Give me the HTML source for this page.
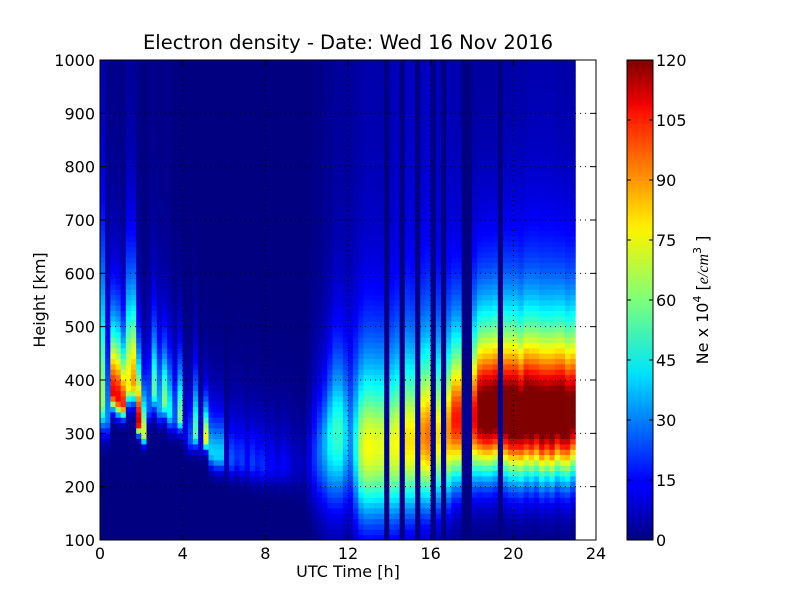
<!DOCTYPE html>
<html><head><meta charset="utf-8"><style>
html,body{margin:0;padding:0;background:#fff;width:800px;height:600px;overflow:hidden}
svg text{font-family:"DejaVu Sans","Liberation Sans",sans-serif;fill:#000}
</style></head><body>
<svg id="chart" width="800" height="600" viewBox="0 0 800 600">
<rect x="0" y="0" width="800" height="600" fill="#fff"/>
<text x="348" y="49" font-size="19.5" text-anchor="middle">Electron density - Date: Wed 16 Nov 2016</text>
<g id="heat"></g>
<g id="grid"></g>
<rect x="100" y="60" width="496" height="480" fill="none" stroke="#000" stroke-width="1"/>
<g id="axes"></g>
<text x="348" y="577" font-size="16" text-anchor="middle">UTC Time [h]</text>
<text transform="translate(45,300) rotate(-90)" font-size="16" text-anchor="middle">Height [km]</text>
<defs><linearGradient id="jet" x1="0" y1="1" x2="0" y2="0">
<stop offset="0" stop-color="#00007f"/><stop offset="0.11" stop-color="#0000ff"/><stop offset="0.125" stop-color="#0000ff"/><stop offset="0.34" stop-color="#00dcff"/><stop offset="0.35" stop-color="#00e5f7"/><stop offset="0.5" stop-color="#7dff7a"/><stop offset="0.64" stop-color="#f7f400"/><stop offset="0.66" stop-color="#ffea00"/><stop offset="0.89" stop-color="#ff1300"/><stop offset="0.91" stop-color="#ee0000"/><stop offset="1" stop-color="#7f0000"/>
</linearGradient></defs>
<rect x="627" y="60" width="26" height="480" fill="url(#jet)" stroke="#000" stroke-width="1"/>
<g id="cbar"></g>
<text transform="translate(708,300) rotate(-90)" font-size="16" text-anchor="middle">Ne x 10<tspan font-size="11" dy="-7">4</tspan><tspan dy="7">  [</tspan><tspan font-style="italic" font-family="Liberation Serif">e/cm</tspan><tspan font-size="11" dy="-7">3</tspan><tspan dy="7"> ]</tspan></text>
</svg>
<script>
// one profile per 0.25 h column, 0 .. 22.75 h
const peakHeight=[360,330,375,365,355,390,395,320,300,350,380,350,360,340,330,330,300,290,300,280,290,265,260,260,250,250,255,250,250,245,245,240,240,240,235,240,240,240,240,240,250,260,270,280,290,300,300,300,290,280,275,275,275,275,275,300,275,280,300,285,285,300,295,295,300,295,300,305,325,325,300,300,330,340,340,340,345,300,340,335,335,330,340,335,340,330,335,330,340,335,330,340];
const peakNe=[60,30,105,105,100,75,85,110,70,25,55,35,60,45,25,60,12,25,55,12,75,40,40,40,8,25,20,22,15,22,18,20,15,15,12,15,12,8,8,6,12,20,28,35,45,50,50,40,30,45,65,72,72,70,70,3,70,72,3,75,75,3,85,88,3,75,3,85,100,100,3,3,105,125,130,130,130,3,130,135,135,130,135,135,130,135,130,135,130,135,130,125];
const upperScale=[90,60,45,45,38,65,60,38,30,45,45,45,38,38,38,38,38,30,38,30,24,28,28,28,30,30,30,30,30,30,30,30,30,30,30,30,30,30,30,30,40,45,45,45,50,55,55,55,60,60,60,60,60,60,60,45,60,60,45,60,60,45,60,60,45,60,45,58,56,56,45,45,58,58,58,58,58,45,58,58,58,58,58,58,58,58,58,58,58,58,58,58];
const lowerScale=[50,35,28,28,24,35,35,20,20,30,35,30,30,30,30,25,30,25,25,25,20,28,30,30,30,32,32,35,35,35,35,35,35,35,35,35,40,40,45,50,75,95,110,120,130,135,135,135,135,140,140,140,140,140,140,80,140,140,80,135,135,80,130,130,80,125,80,120,115,115,80,80,110,110,110,110,110,80,110,110,110,110,110,110,110,110,110,110,110,110,110,110];
const topNe=[3,1,1,1,1,2,2,1,0,1,1,1,1,1,0,0,0,0,0,0,0,0,0,0,0,0,0,0,0,0,0,0,0,0,0,0,0,0,0,0,0,1,1,2,2,3,3,3,3,4,4,5,5,5,5,0,6,7,0,8,7,0,7,8,0,7,0,6,5,5,0,0,3,3,3,3,3,0,4,4,4,4,4,5,5,5,5,5,4,4,4,4];
const xTicks=[0,4,8,12,16,20,24];
const yTicks=[100,200,300,400,500,600,700,800,900,1000];
const cTicks=[0,15,30,45,60,75,90,105,120];

const NS='http://www.w3.org/2000/svg';
const X0=100,X1=596,Y0=540,Y1=60;
function xs(t){return X0+(t/24)*(X1-X0);}
function ys(h){return Y0-(h-100)/900*(Y0-Y1);}
function jet(v){let x=Math.max(0,Math.min(1,v/120));
 function c(a){return Math.max(0,Math.min(1,1.5-Math.abs(4*x-a)));}
 const r=c(3),g=c(2),b=c(1);return 'rgb('+Math.round(r*255)+','+Math.round(g*255)+','+Math.round(b*255)+')';}
function profile(i,h){const hm=peakHeight[i];let base;
 if(h>hm){const z=(h-hm)/upperScale[i];base=Math.exp(0.5*(1-z-Math.exp(-z)));}
 else{const z=(hm-h)/lowerScale[i];base=Math.exp(-z*z);}
 return peakNe[i]*base+topNe[i]*Math.min(1,Math.max(0,(h-150)/300));}
function mk(tag,attrs,parent){const e=document.createElementNS(NS,tag);for(const k in attrs)e.setAttribute(k,attrs[k]);parent.appendChild(e);return e;}
const heat=document.getElementById('heat');
const dh=10,dt=0.25;
for(let i=0;i<peakNe.length;i++){
 for(let h=100;h<1000;h+=dh){
  const r=mk('rect',{x:xs(i*dt).toFixed(2),y:ys(h+dh).toFixed(2),width:(xs(dt)-xs(0)+0.4).toFixed(2),height:(ys(h)-ys(h+dh)+0.4).toFixed(2),fill:jet(profile(i,h+dh/2))},heat);
  
  
 }
}
const grid=document.getElementById('grid'),axes=document.getElementById('axes');
xTicks.forEach(t=>{const x=xs(t);
 if(t>0&&t<24){const l=mk('line',{x1:x,y1:Y1,x2:x,y2:Y0,stroke:'#000','stroke-dasharray':'1,4','stroke-width':1},grid);
  }
 mk('line',{x1:x,y1:Y0,x2:x,y2:Y0-5,stroke:'#000'},axes);mk('line',{x1:x,y1:Y1,x2:x,y2:Y1+5,stroke:'#000'},axes);
 const tx=mk('text',{x:x,y:Y0+19,'font-size':16,'text-anchor':'middle'},axes);tx.textContent=t;
 });
yTicks.forEach(h=>{const y=ys(h);
 if(h>100&&h<1000){const l=mk('line',{x1:X0,y1:y,x2:X1,y2:y,stroke:'#000','stroke-dasharray':'1,4','stroke-width':1},grid);
  }
 mk('line',{x1:X0,y1:y,x2:X0+5,y2:y,stroke:'#000'},axes);mk('line',{x1:X1,y1:y,x2:X1-5,y2:y,stroke:'#000'},axes);
 const tx=mk('text',{x:X0-5,y:y+6,'font-size':16,'text-anchor':'end'},axes);tx.textContent=h;
 });
const cb=document.getElementById('cbar');
cTicks.forEach(v=>{const y=540-v/120*480;
 mk('line',{x1:627,y1:y,x2:631,y2:y,stroke:'#000'},cb);mk('line',{x1:653,y1:y,x2:649,y2:y,stroke:'#000'},cb);
 const tx=mk('text',{x:656,y:y+6,'font-size':16},cb);tx.textContent=v;
 });
</script>
</body></html>
